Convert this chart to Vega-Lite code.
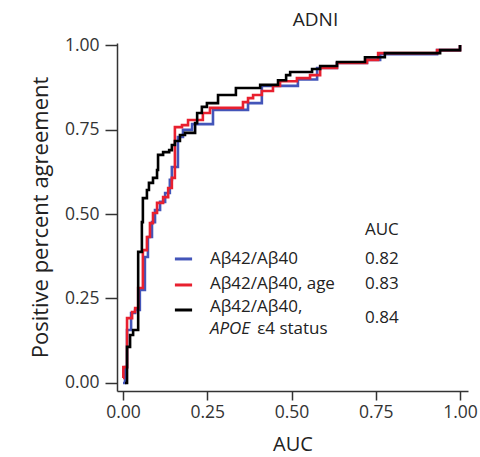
{
  "$schema": "https://vega.github.io/schema/vega-lite/v6.json",
  "width": 351,
  "height": 348,
  "autosize": {"type": "none"},
  "padding": {"left": 117, "top": 43, "right": 12, "bottom": 66},
  "background": "white",
  "config": {
    "view": {"stroke": null},
    "font": "Open Sans",
    "text": {"font": "Open Sans", "fontSize": 17, "color": "#222222"}
  },
  "title": {"text": "ADNI", "fontSize": 19, "font": "Open Sans", "fontWeight": "normal", "color": "#222222", "anchor": "middle", "dx": 23, "offset": 6},
  "datasets": {
    "roc": [
      {"model": "blue", "x": 0.000, "y": 0.000},
      {"model": "blue", "x": 0.006, "y": 0.047},
      {"model": "blue", "x": 0.012, "y": 0.157},
      {"model": "blue", "x": 0.024, "y": 0.207},
      {"model": "blue", "x": 0.036, "y": 0.216},
      {"model": "blue", "x": 0.050, "y": 0.275},
      {"model": "blue", "x": 0.065, "y": 0.373},
      {"model": "blue", "x": 0.074, "y": 0.432},
      {"model": "blue", "x": 0.086, "y": 0.476},
      {"model": "blue", "x": 0.095, "y": 0.512},
      {"model": "blue", "x": 0.110, "y": 0.536},
      {"model": "blue", "x": 0.125, "y": 0.562},
      {"model": "blue", "x": 0.139, "y": 0.601},
      {"model": "blue", "x": 0.145, "y": 0.639},
      {"model": "blue", "x": 0.163, "y": 0.728},
      {"model": "blue", "x": 0.178, "y": 0.749},
      {"model": "blue", "x": 0.205, "y": 0.766},
      {"model": "blue", "x": 0.267, "y": 0.808},
      {"model": "blue", "x": 0.371, "y": 0.828},
      {"model": "blue", "x": 0.412, "y": 0.879},
      {"model": "blue", "x": 0.519, "y": 0.898},
      {"model": "blue", "x": 0.576, "y": 0.932},
      {"model": "blue", "x": 0.635, "y": 0.947},
      {"model": "blue", "x": 0.724, "y": 0.956},
      {"model": "blue", "x": 0.763, "y": 0.973},
      {"model": "blue", "x": 0.932, "y": 0.985},
      {"model": "blue", "x": 1.000, "y": 1.000},
      {"model": "red", "x": 0.000, "y": 0.015},
      {"model": "red", "x": 0.001, "y": 0.047},
      {"model": "red", "x": 0.012, "y": 0.192},
      {"model": "red", "x": 0.027, "y": 0.210},
      {"model": "red", "x": 0.036, "y": 0.222},
      {"model": "red", "x": 0.045, "y": 0.281},
      {"model": "red", "x": 0.059, "y": 0.393},
      {"model": "red", "x": 0.071, "y": 0.432},
      {"model": "red", "x": 0.080, "y": 0.473},
      {"model": "red", "x": 0.089, "y": 0.503},
      {"model": "red", "x": 0.101, "y": 0.533},
      {"model": "red", "x": 0.119, "y": 0.550},
      {"model": "red", "x": 0.134, "y": 0.577},
      {"model": "red", "x": 0.145, "y": 0.607},
      {"model": "red", "x": 0.154, "y": 0.757},
      {"model": "red", "x": 0.175, "y": 0.763},
      {"model": "red", "x": 0.193, "y": 0.778},
      {"model": "red", "x": 0.237, "y": 0.799},
      {"model": "red", "x": 0.258, "y": 0.814},
      {"model": "red", "x": 0.356, "y": 0.831},
      {"model": "red", "x": 0.371, "y": 0.843},
      {"model": "red", "x": 0.386, "y": 0.852},
      {"model": "red", "x": 0.412, "y": 0.864},
      {"model": "red", "x": 0.445, "y": 0.879},
      {"model": "red", "x": 0.466, "y": 0.893},
      {"model": "red", "x": 0.516, "y": 0.902},
      {"model": "red", "x": 0.555, "y": 0.911},
      {"model": "red", "x": 0.585, "y": 0.932},
      {"model": "red", "x": 0.635, "y": 0.947},
      {"model": "red", "x": 0.724, "y": 0.956},
      {"model": "red", "x": 0.757, "y": 0.976},
      {"model": "red", "x": 0.932, "y": 0.985},
      {"model": "red", "x": 1.000, "y": 1.000},
      {"model": "black", "x": 0.006, "y": 0.000},
      {"model": "black", "x": 0.012, "y": 0.107},
      {"model": "black", "x": 0.021, "y": 0.142},
      {"model": "black", "x": 0.030, "y": 0.157},
      {"model": "black", "x": 0.045, "y": 0.388},
      {"model": "black", "x": 0.056, "y": 0.476},
      {"model": "black", "x": 0.059, "y": 0.547},
      {"model": "black", "x": 0.071, "y": 0.571},
      {"model": "black", "x": 0.077, "y": 0.592},
      {"model": "black", "x": 0.089, "y": 0.607},
      {"model": "black", "x": 0.101, "y": 0.630},
      {"model": "black", "x": 0.104, "y": 0.675},
      {"model": "black", "x": 0.119, "y": 0.683},
      {"model": "black", "x": 0.137, "y": 0.689},
      {"model": "black", "x": 0.145, "y": 0.704},
      {"model": "black", "x": 0.154, "y": 0.716},
      {"model": "black", "x": 0.169, "y": 0.734},
      {"model": "black", "x": 0.184, "y": 0.740},
      {"model": "black", "x": 0.214, "y": 0.769},
      {"model": "black", "x": 0.220, "y": 0.799},
      {"model": "black", "x": 0.234, "y": 0.817},
      {"model": "black", "x": 0.249, "y": 0.828},
      {"model": "black", "x": 0.282, "y": 0.852},
      {"model": "black", "x": 0.335, "y": 0.873},
      {"model": "black", "x": 0.407, "y": 0.882},
      {"model": "black", "x": 0.460, "y": 0.896},
      {"model": "black", "x": 0.484, "y": 0.911},
      {"model": "black", "x": 0.496, "y": 0.920},
      {"model": "black", "x": 0.561, "y": 0.929},
      {"model": "black", "x": 0.585, "y": 0.938},
      {"model": "black", "x": 0.635, "y": 0.950},
      {"model": "black", "x": 0.718, "y": 0.964},
      {"model": "black", "x": 0.777, "y": 0.976},
      {"model": "black", "x": 0.941, "y": 0.985},
      {"model": "black", "x": 1.000, "y": 1.000}
    ],
    "one": [{}]
  },
  "layer": [
    {
      "data": {"name": "roc"},
      "transform": [{"filter": "datum.model == 'blue'"}],
      "mark": {"type": "line", "interpolate": "step-after", "color": "#4355b9", "strokeWidth": 2.6},
      "encoding": {
        "x": {"field": "x", "type": "quantitative", "scale": {"domain": [-0.0178, 1.0237], "nice": false, "zero": false},
          "axis": {"title": "AUC", "values": [0, 0.25, 0.5, 0.75, 1], "format": ".2f", "grid": false, "tickSize": 9, "labelPadding": 3, "labelFontSize": 17.5, "titleFontSize": 20, "titleFontWeight": "normal", "titlePadding": 14, "labelFont": "Open Sans", "titleFont": "Open Sans", "labelColor": "#333333", "titleColor": "#222222", "domainColor": "#333333", "tickColor": "#333333", "domainWidth": 1.5, "tickWidth": 1.5}},
        "y": {"field": "y", "type": "quantitative", "scale": {"domain": [-0.0237, 1.006], "nice": false, "zero": false},
          "axis": {"title": "Positive percent agreement", "values": [0, 0.25, 0.5, 0.75, 1], "format": ".2f", "grid": false, "tickSize": 12, "labelPadding": 6, "labelFontSize": 17.5, "titleFontSize": 22, "titleFontWeight": "normal", "titlePadding": 12, "labelFont": "Open Sans", "titleFont": "Open Sans", "labelColor": "#333333", "titleColor": "#222222", "domainColor": "#333333", "tickColor": "#333333", "domainWidth": 1.5, "tickWidth": 1.5}}
      }
    },
    {
      "data": {"name": "roc"},
      "transform": [{"filter": "datum.model == 'red'"}],
      "mark": {"type": "line", "interpolate": "step-after", "color": "#e8202f", "strokeWidth": 2.6},
      "encoding": {
        "x": {"field": "x", "type": "quantitative"},
        "y": {"field": "y", "type": "quantitative"}
      }
    },
    {
      "data": {"name": "roc"},
      "transform": [{"filter": "datum.model == 'black'"}],
      "mark": {"type": "line", "interpolate": "step-after", "color": "#000000", "strokeWidth": 2.6},
      "encoding": {
        "x": {"field": "x", "type": "quantitative"},
        "y": {"field": "y", "type": "quantitative"}
      }
    },
    {
      "data": {"name": "one"},
      "mark": {"type": "rule", "color": "#4355b9", "strokeWidth": 3},
      "encoding": {"x": {"datum": 0.154}, "x2": {"datum": 0.205}, "y": {"datum": 0.367}}
    },
    {
      "data": {"name": "one"},
      "mark": {"type": "rule", "color": "#e8202f", "strokeWidth": 3},
      "encoding": {"x": {"datum": 0.154}, "x2": {"datum": 0.205}, "y": {"datum": 0.290}}
    },
    {
      "data": {"name": "one"},
      "mark": {"type": "rule", "color": "#000000", "strokeWidth": 3},
      "encoding": {"x": {"datum": 0.154}, "x2": {"datum": 0.205}, "y": {"datum": 0.216}}
    },
    {
      "data": {"name": "one"},
      "mark": {"type": "text", "text": "Aβ42/Aβ40", "align": "left", "baseline": "middle"},
      "encoding": {"x": {"datum": 0.258}, "y": {"datum": 0.367}}
    },
    {
      "data": {"name": "one"},
      "mark": {"type": "text", "text": "Aβ42/Aβ40, age", "align": "left", "baseline": "middle"},
      "encoding": {"x": {"datum": 0.258}, "y": {"datum": 0.294}}
    },
    {
      "data": {"name": "one"},
      "mark": {"type": "text", "text": "Aβ42/Aβ40,", "align": "left", "baseline": "middle"},
      "encoding": {"x": {"datum": 0.258}, "y": {"datum": 0.225}}
    },
    {
      "data": {"name": "one"},
      "mark": {"type": "text", "text": "APOE", "align": "left", "baseline": "middle", "fontStyle": "italic"},
      "encoding": {"x": {"datum": 0.258}, "y": {"datum": 0.159}}
    },
    {
      "data": {"name": "one"},
      "mark": {"type": "text", "text": "ε4 status", "align": "left", "baseline": "middle"},
      "encoding": {"x": {"datum": 0.398}, "y": {"datum": 0.159}}
    },
    {
      "data": {"name": "one"},
      "mark": {"type": "text", "text": "AUC", "align": "left", "baseline": "middle"},
      "encoding": {"x": {"datum": 0.718}, "y": {"datum": 0.453}}
    },
    {
      "data": {"name": "one"},
      "mark": {"type": "text", "text": "0.82", "align": "left", "baseline": "middle"},
      "encoding": {"x": {"datum": 0.718}, "y": {"datum": 0.367}}
    },
    {
      "data": {"name": "one"},
      "mark": {"type": "text", "text": "0.83", "align": "left", "baseline": "middle"},
      "encoding": {"x": {"datum": 0.718}, "y": {"datum": 0.294}}
    },
    {
      "data": {"name": "one"},
      "mark": {"type": "text", "text": "0.84", "align": "left", "baseline": "middle"},
      "encoding": {"x": {"datum": 0.718}, "y": {"datum": 0.192}}
    }
  ]
}
